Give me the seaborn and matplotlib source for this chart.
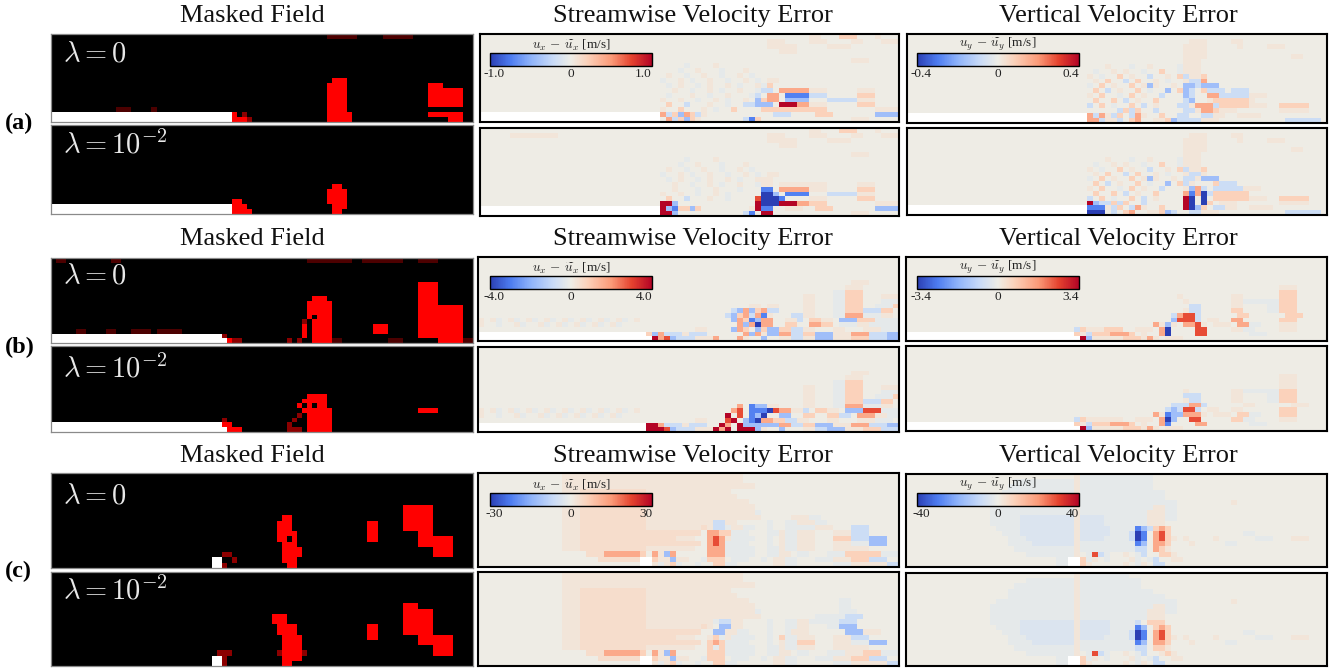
import re
import numpy as np
import matplotlib
matplotlib.use("Agg")
import matplotlib.pyplot as plt
from matplotlib.colors import LinearSegmentedColormap
from matplotlib.transforms import ScaledTranslation
import seaborn as sns

# ---- data: coarse grids, one string per grid row ----------------------------
# "3r" = three cells of code r, "@47" = continue at grid column 47.
MASK_A1 = ["55k6f5k6f","","","","","","","","","56k3r","55k4r16k3r","55k4r16k7r","55k4r16k7r","55k4r16k7r","55k4r16k7r",
           "13k3f4k1f34k4r","36_1r1k1d16k5r15k7r","36_3r1d15k5r19k3r"]
MASK_A2 = ["","","","","","","","","","","","","56k2r","55k4r","55k4r","36k2r17k4r","36_3r17k3r","36_4r16k2r"]
MASK_B1 = ["1k2f9k2f37k9f2k8f3k4f","","","","","73k4r","73k4r","73k4r","52k3r18k4r","51k5r17k4r","51k5r17k9r","51k5r17k9r",
           "51k1r1k3r17k9r","50k1d1k4r17k9r","50k1r1k4r8k3r6k9r","5k2f4k2f3k4f1k5f24k1r1k4r8k3r6k9r",
           "34_1d15k1r1k4r17k9r","35_1r2d9k1d1k1d2k4r2f9k3f7k5r2f"]
MASK_B2 = ["","","","","","","","","","","51k4r","50k5r","49k1r1k1r1k2r","50k6r17k4r","49k1d1k5r","34k1d13k1d2k5r",
           "34_2r11k1d3k5r","35_3r9k3d1k5r"]
MASK_C1 = ["","","","","","","70k6r","70k6r","46k2r22k6r","45k3r15k2r5k6r","45k3r15k2r5k6r","45k4r14k2r8k3r",
           "45k2r1k1r14k2r8k7r","46k3r24k7r","46k4r26k4r","34k2d10k4r26k4r","32k2_2k1d9k3r","32k2_1d12k2r"]
MASK_C2 = ["","","","","","","70k3r","70k6r","44k3r23k6r","44k3r23k6r","45k4r14k2r5k6r","45k4r14k2r5k6r",
           "46k4r13k2r8k7r","46k4r23k7r","46k4r26k4r","33k3d9k1d4r1d25k4r","32k2_1d11k4r","32k2_1d11k2r"]

UX_A1 = ["@55 2A 3. 3B 3. 1A","@48 3A 4. 3A 4. 2A 3. 3A","@48 5A 5. 4A","@50 3A","","@62 3A","@34 1e 4. 1A",
         "33.1e2.1A3.1e3.1A","31.1A2.1e2.1A2.1e2.1A1.1e","30.1e2.1A1.1e2.1A2.1e2.1A1.1e @48 2A","31.1e1.1A2.1e1.1A2.1A1.1e2.1A @47 1e 1B",
         "32.1A2.1e2.1A1.1e2.1A2.1e @47 2d 1. 5C 3A @63 3A","31.1e3.1A2.1e2.1A3.1e @46 1d 1. 2C 1. 4b 3d 5. 3B",
         "30.1A2.1A2.1e2.1A1.1e2.1A @46 1c 1B 2C 1. 4c 3. 5d 3A","31.1B2.1d3.1A2.1e @44 2d 3c 1. 3E 2C 3A @63 3B",
         "30.1A2.1B3.1A1.1e2.1B @47 4B 4B 3B @66 4A","30_1C1d1B1c1C1B1d1A @49 3d 4. 3B 7. 4c","30_1.1C1d1B1c1B1A @44 1d 1b 1B @62 3A 5. "]
UX_A2 = ["@55 2A 3. 3B 3. 1A","@5 8A @48 3A 4. 3A 4. 2A 3. 3A","@48 5A 5. 4A","@50 3A","","@62 3A","@34 1e 4. 1A",
         "33.1e2.1A3.1e3.1A","31.1A2.1e2.1A2.1e2.1A1.1e","30.1e2.1A1.1e2.1A2.1e2.1A1.1e @48 2A","31.1e1.1A2.1e1.1A2.1A1.1e2.1A @47 2A",
         "32.1A2.1e2.1A1.1e2.1A2.1e @47 2A 1. 5A 3A @63 3A","32.1A3.1e2.1A3.1e @47 2b 1. 5C 3A 5. 3B",
         "30.1A2.1A2.1e2.1A1.1e @47 2a 1c 1. 4b 3. 5d 3A","31.1B2.1d3.1A2.1e @46 1D 3a 1b 4. 3A @63 3B",
         "30.2E1c @46 1E 3a 3E 2C 3B @66 4A","30_1E1c1b2B1c1B @45 1A 1E 2b 2. 3A 2. 3B 7. 4c","30_2E1c @44 1d 1b 1. 2E @62 3A"]
UY_A1 = ["","@47 3A 4. 2A","@46 4A 5. 1A 4. 3A","@46 4A","@46 4A 14. 2A","@46 3A","33.1A3.1e2.1A4.1e @46 3A",
         "31.1e2.1A1.1A2.1e2.1B2.1e @46 3A","30.1A1.1e2.1B1.1A2.1d2.1A1.1B @46 1d 2A 1B","31.1A1.1B2.1d1.1B2.1A1.1e2.1A @47 2d 1C",
         "30.1e1.1B1.1A2.1B1.1A @40 1c 1A 2. 1A @46 2c 1d 3c","31.1B1.1d1.1A2.1B1.1e2.1c1.1B @46 1c 1d 1. 1B 3d 1. 1d 2d",
         "30.1A1.1B2.1e1.1B1.1A2.1d @46 1c 1d 2. 2C 5d 3A","31.1B2.1B1.1d1.1A2.1B @46 1d 1c 2. 1A 1d 3. 3A @51 6B",
         "30.1d1.1B1.1e2.1B1.1d1.1A @45 2d 1A 3C 1d 5B 3A @62 5B","@35 1d 1B 1d 1B 2. 1d @46 2d 1A 2C 1B @52 3A 7. 5A",
         "30_1C1d1C1A1d1B1. 1d1C 1A 2. 1B 1. @45 2d 2. 2d 2A 2. 4A","30_2C1d2A1d1. 1B1C2. 2A 1B1c 1d @46 3d 3A @63 2d 4d"]
UY_A2 = ["","@47 3A 4. 2A","@46 4A 5. 1A 4. 3A","@46 4A","@46 4A 14. 2A","@46 3A","33.1A3.1e2.1A4.1e @46 3A",
         "31.1e2.1A1.1A2.1e2.1B2.1e @46 3A","30.1A1.1e2.1B1.1A2.1d2.1A1.1B @46 1d 2A 1B","31.1A1.1B2.1d1.1B2.1A1.1e2.1A @47 2d 1A",
         "30.1e1.1B1.1A2.1B1.1A @40 1c 1A 2. 1A @46 2d 1A 3c","31.1B1.1d1.1A2.1B1.1e2.1c1.1B @46 1d 1A 3. 1B 3d",
         "30.1A1.1B2.1e1.1B1.1A2.1d @46 1A 1c 1C 1d 1. 5d 3A","31.1B2.1B1.1d1.1A2.1B @46 1C 1b 1C 1a 1d @51 6B",
         "30.1d1.1B1.1e2.1B1.1d1.1A @46 1E 1a 1. 1a 1. 6B 3A @62 5B","30.1E1c1d 1d 1B 1d 1B 2. 1d @46 1E 1a 1. 1a 1B @52 3A 7. 5A",
         "30_3b 1A1d1B1. 1d1C 1A 2. 1B 1. @46 1E 1a 1c 1B @51 2d 2A 2. 4A","30_3a 1. 1d1. 1B1C2. 2A 1B1c 1d @47 2d 3A @63 2d 4d"]
STRIPES = "1A1.1A1e1.1A1e1.1A1e1.1A1e1.1A1e1.1A1e1.1A1e1.1A1e1.1A"
UX_B1 = ["","","","","","@62 3A","@61 3A","@59 2e 3B","@54 2A 3. 2e 3B 3. 3A","@54 2A 3. 2e 3B 3. 3e 1A","@45 2A 1. 2A 4. 2A 3. 2e 3B 2. 3e 2B",
         "@42 1d 1c 1C 1c 1B 1C @48 2d @54 2A 3. 2e 3B 3d 2B","@41 1d 1c 1B 1C 1d 1C 1b 1C @48 1A @52 2d @54 2A 3. 2e 3C 3e 2A",
         STRIPES+" @42 1c 1C 1B 1b 1c 2C 2. 2A 1d 1. 2B 2A 1. 3c 3B 4e","1A2.1e2.1A1e2.1A1e1.1A1e1.1A1e1.1A1e1.1A1e @43 1C 1c 1C 1a 2C 2. 2B 2. 2C 2B 1. 3e 2A 5e",
         "@36 2A 2. @42 1c 1C 1B 1. 1c 1B 2c 2B 2d 2A 3. 2A 3. 3A 3e","28_1B1c1C 3d 1A 3d @44 1C 1c 1C 1A 2c 2C 2d 2B 3c 3A 3C 3d 2c",
         "29_1E1C1D1c 3d 3A 1C @43 1C 1A 2. 1c @50 2A 2d 2A 3c 3A 3B 3d 2c"]
UX_B2 = ["","","","","","@62 3A","@61 3A","@59 2e 3B","@54 2A 3. 2e 3B 3. 3A","@54 2A 3. 2e 3B 3. 3e 1A","@54 2A 3. 2e 3B 2. 3e 2B",
         "@54 2A 3. 2e 3B 3d 2B","@43 1C 1. 1b 2c 1D @48 2A @54 2A 3. 2e 3C 3e 2A",
         STRIPES+" @42 1C 1D 1. 3b 1a 1D 2C 2A 1d 1. 2B 2A 1. 3c 3D 4e","1A2.1e2.1A1e2.1A1e1.1A1e1.1A1e1.1A1e1.1A1e @41 1E 1. 1D 1. 1b 1c 1a 2. 2c 2. 2B 2. 2B 2d 1. 3C 2A 5e",
         "@36 2A 2. @41 1D 1E 1. 1c 1b 1a 2C 2B 2d 2A 3. 2A 3. 3A 3e","28_2E1C 3d 1A 3d @40 1E 1C 1. 1E 3c 1c 2c 2C 2d 2B 3c 3A 3C 3d 2c",
         "28_1E2E1D1c 3d 3A 1E 1C 1E 1. 1E @44 2E 1c 1A 2. 1c @54 2A 2d 3c 3A 3B 3d 2c"]
UY_B1 = ["","","","","","","@62 3A","@62 3B","@45 1A @54 2A 6. 3B","@46 1A 7. 2A 6e 3B","@47 2d 5. 2A 4. 2e 3B","@46 1A 2d 5. 2B 4. 2e 3B",
         "@44 1d 1C 2D 1d 6. 2B 6. 3B","@44 1c 2D 1D 1d @50 2A 2. 2C 6. 3B","@41 1C 1A 1c 1A 1. 2C 1D 1A 1. 3A 1. 2C 2e 3. 3A",
         "@28 1d 1B 3A 3B 2. 3A @42 1C 1a 2. 2. 2D @54 2A 2e @62 3A","28_1B1A1d 3B 3C 1B @39 1A 2. 1C 1a 2. 2. 2D @57 3e","29_1E1c 5A 3B 1A 1C 1A @43 3A"]
UY_B2 = ["","","","","","","@62 3A","@62 3A","@62 3A","@46 1A 7. 2A 6e 3B","@46 1d 2d 5. 2A 4. 2e 3B","@46 1A 2d 5. 2A 4. 2e 3B",
         "@44 1d 2d 2C 1d 6. 2A 6. 3A","@43 1d 1c 1d 2D 1d @50 2A 2. 2A 6. 3B","@41 1C 1A 1b 2c 3C 1A 1. 3A 1. 2B 2e 3. 3B",
         "@28 1d 1B 3A 3A 2. 3A @42 1C 1a 1c 1. 1. 2D @54 2B 2e @62 3A","28_1B1A1d 3B 3C 1B @39 1A 2. 1C 1b 2. 2. 2C @57 3e","29_1E1c 5A 3B 1A 1C 1A @43 3A"]
UX_C1 = ["@14 14A 16A","@14 14A 16A","@14 14A 18A","@14 3A 11G 14A","@14 3A 11G 14A 1A","@14 3A 11G 14A 3A","@14 3A 11G 14A 4A","@14 3A 11G 14A 4A 1e",
         "@14 3A 11G 14A 5A @52 3A 2e","@14 3A 11G 10A 2A @39 2d 2A @48 1e @51 2e 3A 2e","@14 3A 11G 9A 1G 1A 2d 1e 2A 2e @48 1e @51 2e 3e 3A 3. 3d","@14 3A 11G 9G 1. @38 2C 2B 2e 1e @48 2e 1A @51 2e 3A 3. 3A 3d",
         "@14 3A 11G 5G 3A 1. @38 1C 1D 1C 1A 2e 2e @48 1e 1. 1A @51 2e 3A 3. 3B 3d 3c",
         "@14 3A 11G 9G 1. @38 1C 1D 1C 2e 2e @48 1e 1. 1A @51 2e 3A 3. 3A 3e 3c","@14 3A 4G 7G 8A 2. @38 3C 2e 2e 1e @48 2e 2A @51 2e 3A 3. 3A 3A",
         "@18 3G 6C 1B 1. 1C 1A 1c 1C 1. @38 3C 2e 2e 1e @48 2e 2A @53 2e 3. 3e 3B 3B 3e","@20 7G @27 2_ 1B 2A 1c 2A 2. 1e @38 3B 1. 1e 2e 2. 1e @49 2A @51 2e 3. 3e 3A 3B 3d",
         "@27 2_ 1A 1e 1A 1B 1e 2. 1e @39 2B 2e @49 2A 2e 6. 3e 3A 3A 3d"]
UX_C2 = ["@14 14A 16A","@14 14A 16A","@14 14A 18A","@14 3A 11G 14A","@14 3A 11G 14A 1A","@14 3A 11G 14A 3A @60 2e","@14 3A 11G 14A 4A @60 2e","@14 3A 11G 14A 4A 1e @60 3e",
         "@14 3A 11G 14A 5A @56 3e 2e 3d","@14 3A 11G 10A 2A @38 1A 1e 2d 2A @48 1e @51 2e 2A 3e 2e 3d","@14 3A 11G 9A 1G 1A 1. 2c 2A @48 1e @51 2e 2A 3. 2e 3c","@14 3A 11G 9G 1. 1. @39 2c 2A 2e @48 1e @51 1e 3A @61 3c 3A",
         "@14 3A 11G 5G 3A 1. @38 1A 1B 1e 1A 2e 2e @48 1e 1. 1B @51 2e 3A 3. 3A 3d",
         "@14 3A 11G 9G 1. @38 1B 1C 1B 2e 2e @48 1e 1. 1A @51 2e 3B 3. 3A 3e 3c","@14 3A 4G 7G 8A 2. @38 1B 1e 1B 2e 2e 1e @48 2e 2A @51 2e 3A 3. 3A 3A",
         "@18 3G 6C 1B 1. 1C 1A 1c 1C 1. @38 3B 2e 2e 1e @48 2e 2A @53 2e 3. 3e 3A 3B 3e","@20 7G @27 2_ 1B 2A 1c 2A 2. 1e @38 3B 1. 1e 2e 2. 1e @49 2A @51 2e 3. 3e 3A 3B 3d",
         "@27 2_ 1A 1e 1A 1B 1e 2. 1e @39 2B 2e @49 2A 2e 6. 3e 3A 3A 3d"]
UY_C1 = ["@28 1A @29 12e","@18 10e 1A 12e","@17 11e 1A 12e","@16 12e 1A 14e","@16 12e 1A 14e","@15 13e 1A 16e @54 1A","@14 14e 1A 16e @41 2A",
         "@14 14e 1A 16e @40 3A","@14 5e 9g 1A 4g 12e @40 3A","@14 5e 9g 1A 4g 5e 3e 1e @40 3A","@15 4e 9g 1A 5g 4e 1. 1d @38 1b 1c 1d 1B 1C 1B",
         "@16 3e 9g 1A 5g 5e 1d @37 1d 1a 1b 1. 1C 1D 1B @56 2e","@17 3e 8g 1A 4g 5e 1. 1d @37 1d 1a 1b 1. 1C 1D 1B 1A 1. 1A @51 1A @58 3e @64 3A",
         "@17 4e 7g 1A 5e 5e 2. 1d @38 1b 1c 1. 1C 1C 1B @47 1A 5. 2e","@18 5e 5e 1A 6e 4e 1. 1e 1A 1e @38 1d 1d 1. 1C 1B 1A","@20 8e @28 1A 1. 1e @31 1D 1d 1e 2. 1A 1. 1e 1d 2. 1B 1B 1A",
         "@25 2e 2_ 1B 1e 1A 1. 1e 3. 1A 1e 1. 1e 1d 2. 1A 1A","@25 2e 2_ 1B 1A 1. 4. 1A 1. 1e 1A 1. 2d"]
UY_C2 = ["@28 1A @29 8e","@20 8e 1A 10e","@18 10e 1A 10e","@17 11e 1A 12e","@17 11e 1A 14e","@15 13e 1A 16e @54 1A","@14 14e 1A 16e @41 2A",
         "@14 14e 1A 16e @40 3A","@14 5e 9e 1A 6e 8e @40 3A","@14 5e 9g 1A 5g 5e 1e @38 1d 1. 3B","@15 4e 9g 1A 5g 4e 1. 1d @38 1b 1c 1. 1B 1C 1B",
         "@16 3e 9g 1A 5g 5e 1d @37 1d 1a 1b 1. 1C 1D 1B @56 2e","@17 3e 8g 1A 4g 5e 1. 1d @37 1d 1a 1b 1. 1C 1D 1B 1A 1. 1A @51 1A @58 3e @64 3A",
         "@17 4e 7g 1A 5e 5e 2. 1d @38 1b 1c 1. 1C 1C 1B @47 1A 5. 2e","@18 5e 5e 1A 6e 4e 1. 1e 1A 1e @38 1d 1d 1. 1B 1B 1A","@20 8e @28 1A 1. 1e @31 1D 1d 1e 2. 1A 1. 1e 1d 2. 1A 1B 1A",
         "@25 2e 2_ 1B 1e 1A 1. 1e 3. 1A 1e 1. 1e 1d 2. 1A 1A","@25 2e 2_ 1B 1A 1. 4. 1A 1. 1e 1A 1. 2d"]

GROUP_LABELS = ["(a)", "(b)", "(c)"]
LAMBDA_LABELS = [r"$\lambda = 0$", r"$\lambda = 10^{-2}$"]
COLUMN_TITLES = ["Masked Field", "Streamwise Velocity Error", "Vertical Velocity Error"]
CBAR_LIMITS = {"ux": [1.0, 4.0, 30.0], "uy": [0.4, 3.4, 40.0]}
CBAR_TICKS = {"ux": [["-1.0", "0", "1.0"], ["-4.0", "0", "4.0"], ["-30", "0", "30"]],
              "uy": [["-0.4", "0", "0.4"], ["-3.4", "0", "3.4"], ["-40", "0", "40"]]}
CBAR_TITLES = {"ux": r"$u_x\,-\,\widetilde{u}_x$ [m/s]", "uy": r"$u_y\,-\,\widetilde{u}_y$ [m/s]"}

MASKS = [MASK_A1, MASK_A2, MASK_B1, MASK_B2, MASK_C1, MASK_C2]
FIELDS_UX = [UX_A1, UX_A2, UX_B1, UX_B2, UX_C1, UX_C2]
FIELDS_UY = [UY_A1, UY_A2, UY_B1, UY_B2, UY_C1, UY_C2]

# code -> level
MASK_LEVEL = {"k": 0.0, "f": 0.3, "d": 0.55, "r": 1.0, "_": np.nan}
FIELD_LEVEL = {".": 0.0, "A": .06, "G": .12, "B": .2, "C": .42, "D": .72, "E": 1.0,
               "e": -.05, "g": -.11, "d": -.2, "c": -.42, "b": -.72, "a": -1.0, "_": np.nan}

def expand(rows, ncols, fill, levels):
    out = np.full((len(rows), ncols), levels[fill], dtype=float)
    for i, row in enumerate(rows):
        col = 0
        for jump, count, code in re.findall(r"@(\d+)|(\d+)([^\d\s])", row):
            if jump:
                col = int(jump)
            else:
                n = int(count)
                out[i, col:col + n] = levels[code]
                col += n
    return out

# ---- layout ----------------------------------------------------------------
W, H = 1340, 668
sns.set_style("white")
plt.rcParams["font.family"] = ["Liberation Serif", "DejaVu Serif"]
plt.rcParams["mathtext.fontset"] = "cm"
fig = plt.figure(figsize=(W / 100, H / 100), dpi=100)

def axes_px(x0, y0, x1, y1):
    return fig.add_axes([x0 / W, 1 - y1 / H, (x1 - x0) / W, (y1 - y0) / H])

Y_MASK = [(34, 122), (125, 214), (258, 343), (346, 432), (473, 568), (572, 666)]
Y_UX = [(34, 122), (128, 216), (257, 341), (347, 432), (473, 567), (572, 666)]
Y_UY = [(34, 123), (128, 215), (257, 341), (346, 431), (474, 567), (573, 666)]
X_MASK = (51, 473)
X_UX = [(480, 899), (480, 899), (478, 899), (478, 899), (478, 899), (478, 899)]
X_UY = [(907, 1327), (907, 1327), (906, 1327), (906, 1327), (906, 1327), (906, 1327)]
BAR_Y = [(53, 66), (276, 289), (493, 506)]
BAR_X = {"ux": (490, 652), "uy": (917, 1079)}
LAMBDA_BASE = [61, 153, 284, 378, 503, 600]
TITLE_Y = [16, 239, 456]
TITLE_X = [252, 693, 1118]
GROUP_Y = [123, 347, 571]

mask_cmap = LinearSegmentedColormap.from_list("mask", ["#000000", "#ff0000"])
err_cmap = LinearSegmentedColormap.from_list("err", [
    (0.0, "#2b3fb4"), (0.125, "#4d7cf0"), (0.25, "#8fb3fa"), (0.39, "#c9dbf7"), (0.5, "#eeede6"),
    (0.6, "#fbd2bb"), (0.75, "#fb9a78"), (0.875, "#e5432f"), (1.0, "#b40426")])

for i, rows in enumerate(MASKS):
    ax = axes_px(X_MASK[0], Y_MASK[i][0], X_MASK[1], Y_MASK[i][1])
    data = expand(rows, 84, "k", MASK_LEVEL)
    sns.heatmap(data, mask=np.isnan(data), vmin=0, vmax=1, cmap=mask_cmap, cbar=False,
                xticklabels=False, yticklabels=False, ax=ax)
    for s in ax.spines.values():
        s.set_visible(True); s.set_color("#8a8a8a"); s.set_linewidth(0.9)
    fig.text(63 / W, 1 - LAMBDA_BASE[i] / H, LAMBDA_LABELS[i % 2], color="#e8e8e8", fontsize=20.5,
             va="baseline", ha="left", zorder=10)

for key, fields, xs, ys in [("ux", FIELDS_UX, X_UX, Y_UX), ("uy", FIELDS_UY, X_UY, Y_UY)]:
    for i, rows in enumerate(fields):
        g = i // 2
        lim = CBAR_LIMITS[key][g]
        data = expand(rows, 70, ".", FIELD_LEVEL) * lim
        ax = axes_px(xs[i][0], ys[i][0], xs[i][1], ys[i][1])
        kw = {"cbar": False}
        if i % 2 == 0:
            cax = axes_px(BAR_X[key][0], BAR_Y[g][0], BAR_X[key][1], BAR_Y[g][1])
            kw = {"cbar": True, "cbar_ax": cax, "cbar_kws": {"orientation": "horizontal"}}
        sns.heatmap(data, mask=np.isnan(data), vmin=-lim, vmax=lim, cmap=err_cmap,
                    xticklabels=False, yticklabels=False, ax=ax, **kw)
        for s in ax.spines.values():
            s.set_visible(True); s.set_color("black"); s.set_linewidth(1.5)
        if i % 2 == 0:
            cb = ax.collections[0].colorbar
            cb.set_ticks([-lim, 0, lim], labels=CBAR_TICKS[key][g])
            cb.ax.tick_params(length=0, pad=1.5, labelsize=9.5, labelcolor="#222222")
            cb.outline.set_visible(True); cb.outline.set_edgecolor("black"); cb.outline.set_linewidth(1.0)
            labels = cb.ax.get_xticklabels()
            labels[2].set_ha("right")
            labels[0].set_transform(labels[0].get_transform() + ScaledTranslation(4 / 100, 0, fig.dpi_scale_trans))
            cb.ax.set_title(CBAR_TITLES[key], fontsize=9.5, pad=2, color="#222222")

for g in range(3):
    for c in range(3):
        fig.text(TITLE_X[c] / W, 1 - TITLE_Y[g] / H, COLUMN_TITLES[c], fontsize=19, ha="center", va="center", color="#111111")
    fig.text(5 / W, 1 - GROUP_Y[g] / H, GROUP_LABELS[g], fontsize=17.5, fontweight="bold", ha="left", va="center", color="black")

fig.savefig("out.png", dpi=100, facecolor="white")
